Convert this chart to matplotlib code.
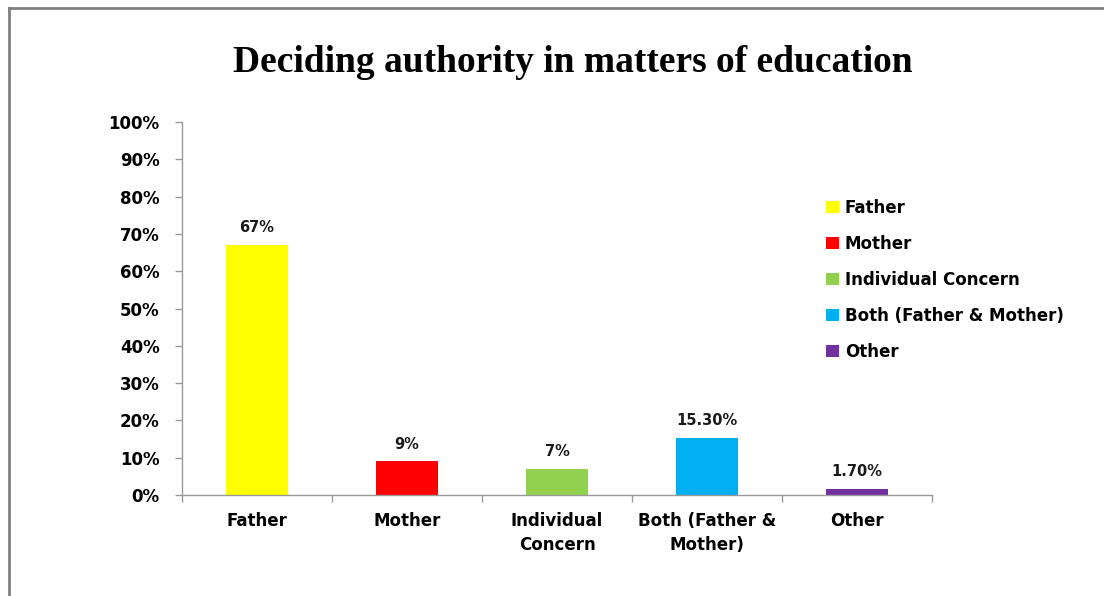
import matplotlib.pyplot as plt
from matplotlib.patches import Patch

categories = ["Father", "Mother", "Individual\nConcern", "Both (Father &\nMother)", "Other"]
legend_names = ["Father", "Mother", "Individual Concern", "Both (Father & Mother)", "Other"]
values = [67, 9, 7, 15.3, 1.7]
value_labels = ["67%", "9%", "7%", "15.30%", "1.70%"]
colors = ["#FFFF00", "#FF0000", "#92D050", "#00B0F0", "#7030A0"]
yticks = list(range(0, 101, 10))

sans = "DejaVu Sans"
fig = plt.figure(figsize=(11.04, 5.96), dpi=100)
ax = fig.add_axes([182 / 1104, 1 - 495 / 596, 750 / 1104, 373 / 596])

xs = range(len(values))
ax.bar(xs, values, width=0.41, color=colors)
for x, v, lab in zip(xs, values, value_labels):
    ax.annotate(lab, (x, v), xytext=(0, 12.5), textcoords="offset points",
                ha="center", va="center", fontsize=10.5, fontweight="bold",
                family=sans, color="#1a1a1a")

ax.set_xlim(-0.5, len(values) - 0.5)
ax.set_ylim(0, 100)
ax.set_yticks(yticks)
ax.set_yticklabels([f"{t}%" for t in yticks], fontsize=12, fontweight="bold", family=sans)
ax.set_xticks(list(xs))
ax.set_xticklabels(categories, fontsize=12, fontweight="bold", family=sans, linespacing=1.45)
ax.set_xticks([i - 0.5 for i in range(len(values) + 1)], minor=True)
ax.tick_params(axis="x", which="major", length=0, pad=12)
ax.tick_params(axis="x", which="minor", length=5, color="#999999", width=1)
ax.tick_params(axis="y", length=5, color="#999999", width=1, pad=11)
for s in ["top", "right"]:
    ax.spines[s].set_visible(False)
for s in ["left", "bottom"]:
    ax.spines[s].set_color("#999999")
    ax.spines[s].set_linewidth(1)

fig.text(573 / 1104, 1 - 63 / 596, "Deciding authority in matters of education",
         ha="center", va="center", fontsize=27, fontweight="bold", family="Liberation Serif")

handles = [Patch(facecolor=c) for c in colors]
fig.legend(handles, legend_names, loc="upper left", bbox_to_anchor=(811 / 1104, 1 - 184 / 596),
           frameon=False, handlelength=0.78, handleheight=0.78, handletextpad=0.35,
           labelspacing=1.08, prop={"family": sans, "weight": "bold", "size": 12})

# frame lines on top and left as in the original export
fig.add_artist(plt.Line2D([8.5 / 1104, 8.5 / 1104], [0, 1 - 7.5 / 596], color="#808080", lw=2,
                          transform=fig.transFigure))
fig.add_artist(plt.Line2D([8.5 / 1104, 1], [1 - 7.5 / 596, 1 - 7.5 / 596], color="#808080", lw=2,
                          transform=fig.transFigure))

fig.savefig("out.png", dpi=100)
